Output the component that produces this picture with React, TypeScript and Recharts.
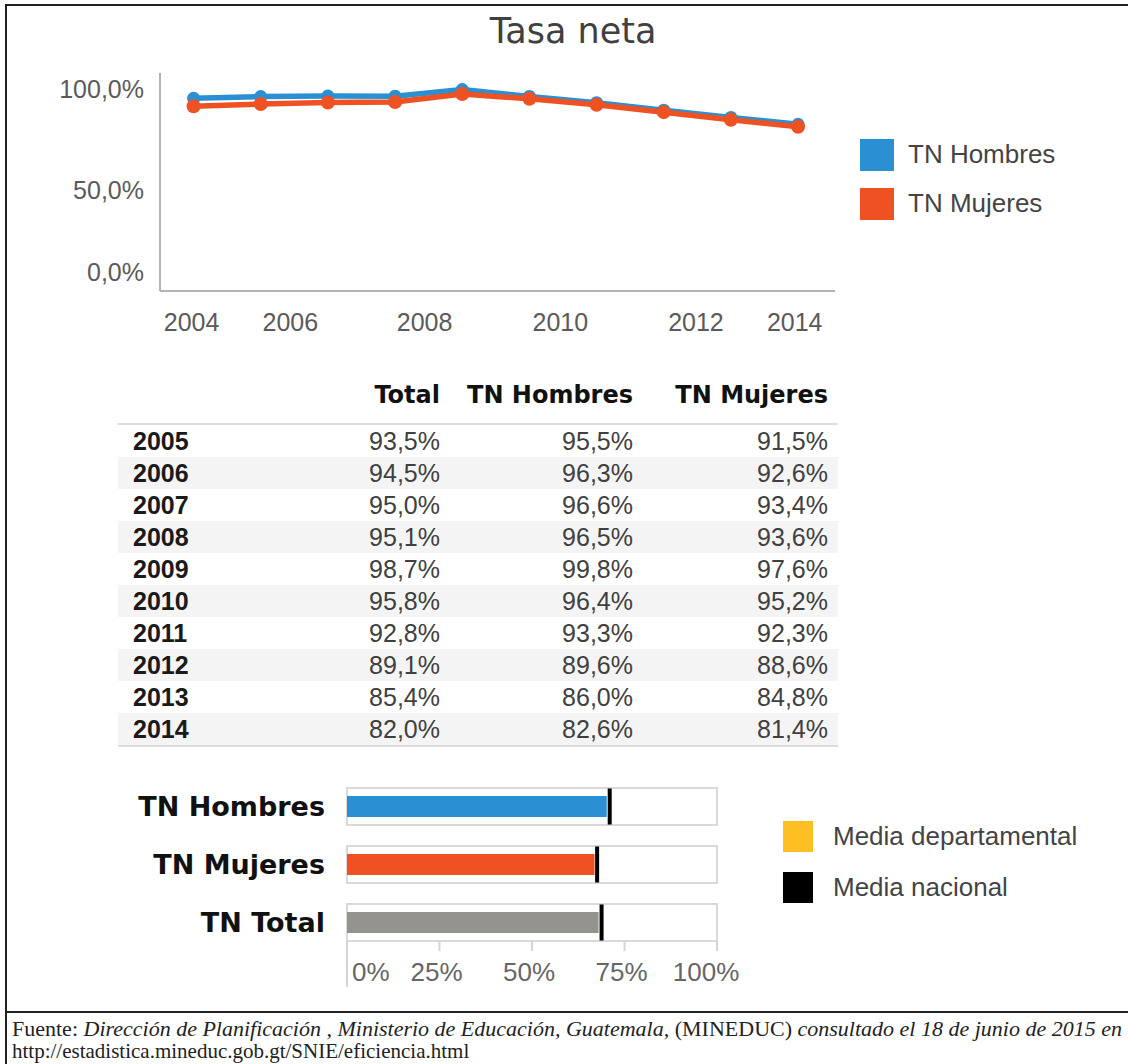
import React from 'react';
import { LineChart, Line, XAxis, YAxis, Legend, BarChart, Bar } from 'recharts';

// Tasa neta por año
const years = [2005, 2006, 2007, 2008, 2009, 2010, 2011, 2012, 2013, 2014];
const tnTotal = [93.5, 94.5, 95.0, 95.1, 98.7, 95.8, 92.8, 89.1, 85.4, 82.0];
const tnHombres = [95.5, 96.3, 96.6, 96.5, 99.8, 96.4, 93.3, 89.6, 86.0, 82.6];
const tnMujeres = [91.5, 92.6, 93.4, 93.6, 97.6, 95.2, 92.3, 88.6, 84.8, 81.4];

const yTicks = [0, 50, 100];
const xTickValues = [2004.97, 2006.44, 2008.44, 2010.46, 2012.48, 2013.95];
const xTickLabels = ['2004', '2006', '2008', '2010', '2012', '2014'];

// bullet chart
const bulletCategories = ['TN Hombres', 'TN Mujeres', 'TN Total'];
const bulletValues = [70.2, 66.9, 68.0];
const bulletNacional = [71.0, 67.6, 68.8];
const bulletTicks = [0, 25, 50, 75, 100];
const bulletLegend = ['Media departamental', 'Media nacional'];

const BLUE = '#2a8fd3';
const ORANGE = '#ef5222';
const bulletColors: Record<string, string> = {
  'TN Hombres': BLUE,
  'TN Mujeres': ORANGE,
  'TN Total': '#95938e',
};
const bulletLegendColors = ['#fdbf22', '#000000'];

const SANS = '"Liberation Sans", Arial, sans-serif';
const GEO = '"DejaVu Sans", sans-serif';
const SERIF = '"Liberation Serif", serif';

const fmt1 = (v: number) => `${v.toFixed(1).replace('.', ',')}%`;

const lineData = years.map((year, i) => ({ year, hombres: tnHombres[i], mujeres: tnMujeres[i] }));
const bulletData = bulletCategories.map((name, i) => ({
  name,
  value: bulletValues[i],
  nacional: bulletNacional[i],
}));

const YTick = ({ x, y, payload }: any) => (
  <text
    x={x}
    y={payload.value === 0 ? y - 19 : y}
    textAnchor="end"
    dominantBaseline="central"
    fontFamily={SANS}
    fontSize={25}
    fill="#5a5a5a"
  >
    {fmt1(payload.value)}
  </text>
);

const LineLegend = ({ payload }: any) => (
  <div>
    {(payload || []).map((p: any) => (
      <div key={p.value} style={{ display: 'flex', alignItems: 'center', height: 49 }}>
        <div style={{ width: 34, height: 32, background: p.color }} />
        <span style={{ marginLeft: 14, fontFamily: SANS, fontSize: 26, color: '#444' }}>{p.value}</span>
      </div>
    ))}
  </div>
);

const BulletLegend = () => (
  <div>
    {bulletLegend.map((label, i) => (
      <div key={label} style={{ display: 'flex', alignItems: 'center', height: 51 }}>
        <div style={{ width: 30, height: 31, background: bulletLegendColors[i] }} />
        <span style={{ marginLeft: 20, fontFamily: SANS, fontSize: 26, color: '#444' }}>{label}</span>
      </div>
    ))}
  </div>
);

const BulletShape = (props: any) => {
  const { x, y, width, height, payload } = props;
  const unit = width / payload.value;
  const cy = y + height / 2;
  return (
    <g>
      <rect x={x} y={cy - 18.5} width={unit * 100} height={37} fill="#fff" stroke="#d9d9d9" strokeWidth={2} />
      <rect x={x} y={y} width={width} height={height} fill={bulletColors[payload.name]} />
      <rect x={x + unit * payload.nacional - 2} y={cy - 18} width={4} height={36} fill="#000" />
    </g>
  );
};

const BulletTick = ({ x, y, payload }: any) => {
  const i = bulletTicks.indexOf(payload.value);
  const first = i === 0;
  const last = i === bulletTicks.length - 1;
  return (
    <g>
      <line x1={x} x2={x} y1={y - 10} y2={first ? y + 36 : y} stroke="#d4d4d4" strokeWidth={2} />
      <text
        x={first ? x + 5 : last ? x - 11 : x - 3}
        y={y + 21}
        textAnchor={first ? 'start' : 'middle'}
        dominantBaseline="central"
        fontFamily={SANS}
        fontSize={26}
        fill="#666"
      >
        {payload.value}%
      </text>
    </g>
  );
};

const cols = [200, 132, 193, 195];

const App = () => {
  return (
    <div style={{ position: 'absolute', left: 0, top: 0, width: 1128, height: 1064, background: '#fff', overflow: 'hidden' }}>
      {/* marco */}
      <div style={{ position: 'absolute', left: 6, top: 4, width: 1122, height: 2, background: '#222' }} />
      <div style={{ position: 'absolute', left: 5, top: 4, width: 2, height: 1060, background: '#222' }} />
      <div style={{ position: 'absolute', left: 6, top: 1011, width: 1122, height: 2, background: '#222' }} />

      <div
        style={{
          position: 'absolute', left: 0, top: 11, width: 1146, textAlign: 'center',
          fontFamily: GEO, fontSize: 35, lineHeight: '40px', color: '#404040',
        }}
      >
        Tasa neta
      </div>

      <div style={{ position: 'absolute', left: 0, top: 0 }}>
        <LineChart width={1128} height={350} data={lineData} margin={{ top: 73, right: 293, bottom: 9, left: 0 }}>
          <XAxis
            dataKey="year"
            type="number"
            domain={[2004.5, 2014.55]}
            ticks={xTickValues}
            tickFormatter={(v: number) => xTickLabels[xTickValues.indexOf(v)]}
            axisLine={{ stroke: '#b3b3b3', strokeWidth: 2 }}
            tickLine={false}
            tickMargin={16}
            height={50}
            tick={{ fill: '#5a5a5a', fontSize: 25, fontFamily: SANS }}
            allowDataOverflow
          />
          <YAxis
            type="number"
            domain={[0, 108]}
            ticks={yTicks}
            width={160}
            axisLine={{ stroke: '#b3b3b3', strokeWidth: 2 }}
            tickLine={false}
            tickMargin={10}
            tick={<YTick />}
          />
          <Line
            dataKey="hombres"
            name="TN Hombres"
            stroke={BLUE}
            strokeWidth={5.5}
            dot={{ r: 6.5, fill: BLUE, stroke: BLUE, strokeWidth: 0 }}
            activeDot={false}
            isAnimationActive={false}
          />
          <Line
            dataKey="mujeres"
            name="TN Mujeres"
            stroke={ORANGE}
            strokeWidth={5.5}
            dot={{ r: 7, fill: ORANGE, stroke: ORANGE, strokeWidth: 0 }}
            activeDot={false}
            isAnimationActive={false}
          />
          <Legend
            layout="vertical"
            align="center"
            verticalAlign="middle"
            content={<LineLegend />}
            wrapperStyle={{ left: 860, top: 130, width: 260, height: 100 }}
          />
        </LineChart>
      </div>

      {/* tabla */}
      <div style={{ position: 'absolute', left: 118, top: 375, width: 720 }}>
        <div style={{ display: 'flex', height: 48, lineHeight: '40px', fontFamily: GEO, fontWeight: 'bold', fontSize: 24, color: '#111' }}>
          <div style={{ width: cols[0] }} />
          <div style={{ width: cols[1], textAlign: 'right', paddingRight: 10, boxSizing: 'border-box' }}>Total</div>
          <div style={{ width: cols[2], textAlign: 'right', paddingRight: 10, boxSizing: 'border-box' }}>TN Hombres</div>
          <div style={{ width: cols[3], textAlign: 'right', paddingRight: 10, boxSizing: 'border-box' }}>TN Mujeres</div>
        </div>
        <div style={{ borderTop: '2px solid #dcdcdc', borderBottom: '2px solid #dcdcdc' }}>
          {years.map((yr, i) => (
            <div
              key={yr}
              style={{
                display: 'flex', height: 32, lineHeight: '32px', fontFamily: SANS, fontSize: 25,
                background: i % 2 === 1 ? '#f4f4f4' : '#fff', color: '#404040',
              }}
            >
              <div style={{ width: cols[0], paddingLeft: 15, boxSizing: 'border-box', fontWeight: 'bold', color: '#1a1a1a' }}>{yr}</div>
              <div style={{ width: cols[1], textAlign: 'right', paddingRight: 10, boxSizing: 'border-box' }}>{fmt1(tnTotal[i])}</div>
              <div style={{ width: cols[2], textAlign: 'right', paddingRight: 10, boxSizing: 'border-box' }}>{fmt1(tnHombres[i])}</div>
              <div style={{ width: cols[3], textAlign: 'right', paddingRight: 10, boxSizing: 'border-box' }}>{fmt1(tnMujeres[i])}</div>
            </div>
          ))}
        </div>
      </div>

      <div style={{ position: 'absolute', left: 0, top: 760 }}>
        <BarChart
          width={1128}
          height={240}
          data={bulletData}
          layout="vertical"
          margin={{ top: 17, right: 411, bottom: 9, left: 0 }}
        >
          <XAxis
            type="number"
            domain={[0, 100]}
            ticks={bulletTicks}
            axisLine={false}
            tickLine={false}
            tickSize={0}
            tickMargin={0}
            height={40}
            tick={<BulletTick />}
          />
          <YAxis
            type="category"
            dataKey="name"
            width={347}
            axisLine={false}
            tickLine={false}
            tickMargin={16}
            tick={{ fill: '#111', fontSize: 27, fontFamily: GEO, fontWeight: 'bold' }}
          />
          <Bar dataKey="value" barSize={21} shape={<BulletShape />} isAnimationActive={false} />
          <Legend
            layout="vertical"
            align="center"
            verticalAlign="middle"
            content={<BulletLegend />}
            wrapperStyle={{ left: 783, top: 51, width: 340, height: 110 }}
          />
        </BarChart>
      </div>

      <div
        style={{
          position: 'absolute', left: 12, top: 1018, width: 1116, fontFamily: SERIF, fontSize: 22,
          lineHeight: '22px', color: '#222', whiteSpace: 'nowrap',
        }}
      >
        <div>
          Fuente: <i>Dirección de Planificación , Ministerio de Educación, Guatemala,</i> (MINEDUC){' '}
          <i>consultado el 18 de junio de 2015 en</i>
        </div>
        <div style={{ fontSize: 21 }}>http://estadistica.mineduc.gob.gt/SNIE/eficiencia.html</div>
      </div>
    </div>
  );
};

export default App;
